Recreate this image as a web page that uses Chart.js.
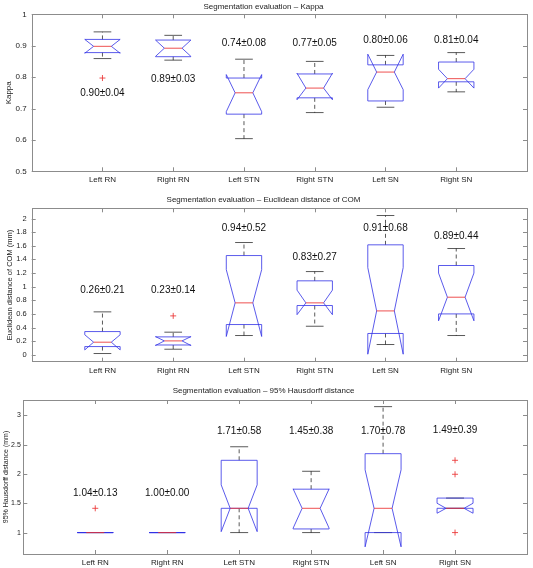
<!DOCTYPE html>
<html>
<head>
<meta charset="utf-8">
<script src="https://cdn.jsdelivr.net/npm/chart.js@4.4.0/dist/chart.umd.min.js"></script>
<style>
  body { margin: 0; background: #fff; }
  #wrap { position: relative; width: 533px; height: 568px; }
  canvas { position: absolute; left: 0; }
</style>
</head>
<body>
<div id="wrap">
  <canvas id="kappaChart" width="533" height="186" style="top:0px"></canvas>
  <canvas id="comChart" width="533" height="189" style="top:186px"></canvas>
  <canvas id="hdChart" width="533" height="193" style="top:375px"></canvas>
</div>
<script>
var categories = ['Left RN', 'Right RN', 'Left STN', 'Right STN', 'Left SN', 'Right SN'];

// Kappa
var kappaTicks = [0.5, 0.6, 0.7, 0.8, 0.9, 1];
var kappaQ1 = [0.878, 0.865, 0.682, 0.734, 0.724, 0.785];
var kappaMed = [0.898, 0.892, 0.750, 0.765, 0.816, 0.795];
var kappaQ3 = [0.920, 0.918, 0.797, 0.810, 0.839, 0.848];
var kappaNotchLo = [0.876, 0.866, 0.690, 0.728, 0.760, 0.765];
var kappaNotchHi = [0.920, 0.918, 0.808, 0.812, 0.873, 0.825];
var kappaWhiskLo = [0.859, 0.854, 0.604, 0.687, 0.704, 0.753];
var kappaWhiskHi = [0.944, 0.933, 0.857, 0.850, 0.869, 0.878];
var kappaOutliers = [[0.797], [], [], [], [], []];
var kappaText = ['0.90\u00b10.04', '0.89\u00b10.03', '0.74\u00b10.08', '0.77\u00b10.05', '0.80\u00b10.06', '0.81\u00b10.04'];
var kappaTextY = [0.748, 0.794, 0.908, 0.908, 0.916, 0.916];

// Euclidean distance of COM
var comTicks = [0, 0.2, 0.4, 0.6, 0.8, 1, 1.2, 1.4, 1.6, 1.8, 2];
var comQ1 = [0.122, 0.145, 0.445, 0.724, 0.314, 0.601];
var comMed = [0.186, 0.205, 0.763, 0.763, 0.645, 0.846];
var comQ3 = [0.342, 0.264, 1.457, 1.086, 1.614, 1.311];
var comNotchLo = [0.073, 0.138, 0.270, 0.590, 0.010, 0.500];
var comNotchHi = [0.295, 0.268, 1.250, 0.950, 1.280, 1.200];
var comWhiskLo = [0.020, 0.083, 0.284, 0.420, 0.152, 0.284];
var comWhiskHi = [0.631, 0.333, 1.648, 1.222, 2.044, 1.560];
var comOutliers = [[], [0.572], [], [], [], []];
var comText = ['0.26\u00b10.21', '0.23\u00b10.14', '0.94\u00b10.52', '0.83\u00b10.27', '0.91\u00b10.68', '0.89\u00b10.44'];
var comTextY = [0.954, 0.954, 1.853, 1.438, 1.853, 1.746];

// 95% Hausdorff distance
var hdTicks = [1, 1.5, 2, 2.5, 3];
var hdQ1 = [1, 1, 1.414, 1.062, 1.0, 1.414];
var hdMed = [1, 1, 1.414, 1.414, 1.414, 1.414];
var hdQ3 = [1, 1, 2.232, 1.740, 2.345, 1.588];
var hdNotchLo = [1, 1, 1.016, 1.075, 0.757, 1.330];
var hdNotchHi = [1, 1, 1.814, 1.745, 2.070, 1.500];
var hdWhiskLo = [1, 1, 1.0, 1.0, 1.0, 1.414];
var hdWhiskHi = [1, 1, 2.463, 2.045, 3.147, 1.588];
var hdOutliers = [[1.414], [], [], [], [], [2.232, 1.994, 1.0]];
var hdText = ['1.04\u00b10.13', '1.00\u00b10.00', '1.71\u00b10.58', '1.45\u00b10.38', '1.70\u00b10.78', '1.49\u00b10.39'];
var hdTextY = [1.665, 1.665, 2.729, 2.729, 2.729, 2.746];

var fontFamily = "'Liberation Sans', Arial, sans-serif";
var boxColor = 'rgba(50,50,230,0.8)';
var medColor = 'rgba(235,50,50,0.85)';
var whiskColor = 'rgba(0,0,0,0.65)';
var frameColor = '#8c8c8c';

function boxPlugin(p) {
    return {
        id: 'notchBox',
        beforeDatasetsDraw: function(chart) {
            var ctx = chart.ctx, xs = chart.scales.x, ys = chart.scales.y, ca = chart.chartArea;
            function Y(v) { return ys.getPixelForValue(v); }
            function line(x1, y1, x2, y2) { ctx.beginPath(); ctx.moveTo(x1, y1); ctx.lineTo(x2, y2); ctx.stroke(); }

            ctx.save();
            ctx.lineWidth = 1;

            // frame + inner ticks
            ctx.strokeStyle = frameColor;
            ctx.strokeRect(Math.round(ca.left) + 0.5, Math.round(ca.top) + 0.5,
                Math.round(ca.right - ca.left), Math.round(ca.bottom - ca.top));
            xs.ticks.forEach(function(t) {
                var px = Math.round(xs.getPixelForValue(t.value)) + 0.5;
                line(px, ca.bottom, px, ca.bottom - 4);
                line(px, ca.top, px, ca.top + 4);
            });
            ys.ticks.forEach(function(t) {
                var py = Math.round(ys.getPixelForValue(t.value)) + 0.5;
                line(ca.left, py, ca.left + 4, py);
                line(ca.right, py, ca.right - 4, py);
            });

            ctx.beginPath();
            ctx.rect(ca.left, ca.top, ca.right - ca.left, ca.bottom - ca.top);
            ctx.clip();

            for (var i = 0; i < categories.length; i++) {
                var cx = xs.getPixelForValue(i + 1);
                var w = xs.getPixelForValue(i + 1.25) - cx;

                // whiskers
                ctx.strokeStyle = whiskColor;
                ctx.setLineDash([4, 3]);
                if (p.whi[i] > p.q3[i]) line(cx, Y(p.q3[i]), cx, Y(p.whi[i]));
                if (p.wlo[i] < p.q1[i]) line(cx, Y(p.q1[i]), cx, Y(p.wlo[i]));
                ctx.setLineDash([]);
                line(cx - w / 2, Y(p.whi[i]), cx + w / 2, Y(p.whi[i]));
                line(cx - w / 2, Y(p.wlo[i]), cx + w / 2, Y(p.wlo[i]));

                // notched box
                ctx.strokeStyle = boxColor;
                ctx.beginPath();
                ctx.moveTo(cx - w, Y(p.q1[i]));
                ctx.lineTo(cx - w, Y(p.nlo[i]));
                ctx.lineTo(cx - w / 2, Y(p.med[i]));
                ctx.lineTo(cx - w, Y(p.nhi[i]));
                ctx.lineTo(cx - w, Y(p.q3[i]));
                ctx.lineTo(cx + w, Y(p.q3[i]));
                ctx.lineTo(cx + w, Y(p.nhi[i]));
                ctx.lineTo(cx + w / 2, Y(p.med[i]));
                ctx.lineTo(cx + w, Y(p.nlo[i]));
                ctx.lineTo(cx + w, Y(p.q1[i]));
                ctx.closePath();
                ctx.stroke();

                // median
                ctx.strokeStyle = medColor;
                line(cx - w / 2, Y(p.med[i]), cx + w / 2, Y(p.med[i]));
            }
            ctx.restore();
        },
        afterDatasetsDraw: function(chart) {
            var ctx = chart.ctx, xs = chart.scales.x, ys = chart.scales.y;
            ctx.save();
            ctx.fillStyle = '#111';
            ctx.font = '10px ' + fontFamily;
            ctx.textAlign = 'center';
            ctx.textBaseline = 'middle';
            for (var i = 0; i < p.text.length; i++) {
                ctx.fillText(p.text[i], xs.getPixelForValue(i + 1), ys.getPixelForValue(p.textY[i]));
            }
            ctx.restore();
        }
    };
}

function makePanel(id, p) {
    var points = [];
    p.outliers.forEach(function(list, i) {
        list.forEach(function(v) { points.push({ x: i + 1, y: v }); });
    });

    return new Chart(document.getElementById(id), {
        type: 'scatter',
        data: {
            datasets: [{
                data: points,
                pointStyle: 'cross',
                radius: 3,
                borderColor: medColor,
                backgroundColor: medColor,
                borderWidth: 1
            }]
        },
        options: {
            responsive: false,
            animation: false,
            layout: { padding: { left: 0, right: 6, top: 0, bottom: 0 } },
            plugins: {
                legend: { display: false },
                tooltip: { enabled: false },
                title: {
                    display: true,
                    text: p.title,
                    color: '#222',
                    font: { family: fontFamily, size: 8, weight: 'normal' },
                    padding: { top: p.titleTop, bottom: p.titleBottom }
                }
            },
            scales: {
                x: {
                    type: 'linear',
                    min: 0,
                    max: 7,
                    grid: { display: false, drawTicks: false },
                    border: { display: false },
                    afterBuildTicks: function(s) {
                        s.ticks = categories.map(function(c, i) { return { value: i + 1 }; });
                    },
                    afterFit: function(s) { s.height = p.xAxisH; },
                    ticks: {
                        autoSkip: false,
                        maxRotation: 0,
                        padding: 4,
                        color: '#222',
                        font: { family: fontFamily, size: 8 },
                        callback: function(v) { return categories[v - 1]; }
                    }
                },
                y: {
                    min: p.min,
                    max: p.max,
                    grid: { display: false, drawTicks: false },
                    border: { display: false },
                    afterBuildTicks: function(s) {
                        s.ticks = p.ticks.map(function(v) { return { value: v }; });
                    },
                    afterFit: function(s) { s.width = p.yAxisW; },
                    ticks: {
                        padding: p.yTickPad,
                        color: '#222',
                        font: { family: fontFamily, size: p.yFont },
                        callback: function(v) { return String(v); }
                    },
                    title: {
                        display: true,
                        text: p.yLabel,
                        color: '#222',
                        font: { family: fontFamily, size: p.yFont },
                        padding: { top: p.yTitlePad, bottom: 0 }
                    }
                }
            }
        },
        plugins: [boxPlugin(p)]
    });
}

makePanel('kappaChart', {
    title: 'Segmentation evaluation \u2013 Kappa', yLabel: 'Kappa',
    min: 0.5, max: 1, ticks: kappaTicks,
    q1: kappaQ1, med: kappaMed, q3: kappaQ3, nlo: kappaNotchLo, nhi: kappaNotchHi,
    wlo: kappaWhiskLo, whi: kappaWhiskHi, outliers: kappaOutliers,
    text: kappaText, textY: kappaTextY,
    titleTop: 2.2, titleBottom: 2.5, xAxisH: 14.7, yAxisW: 31.7, yTitlePad: 4.2, yTickPad: 5, yFont: 8
});

makePanel('comChart', {
    title: 'Segmentation evaluation \u2013 Euclidean distance of COM', yLabel: 'Euclidean distance of COM (mm)',
    min: -0.1, max: 2.15, ticks: comTicks,
    q1: comQ1, med: comMed, q3: comQ3, nlo: comNotchLo, nhi: comNotchHi,
    wlo: comWhiskLo, whi: comWhiskHi, outliers: comOutliers,
    text: comText, textY: comTextY,
    titleTop: 8.5, titleBottom: 4.2, xAxisH: 13.3, yAxisW: 31.7, yTitlePad: 5.2, yTickPad: 5, yFont: 7.5
});

makePanel('hdChart', {
    title: 'Segmentation evaluation \u2013 95% Hausdorff distance', yLabel: '95% Hausdorff distance (mm)',
    min: 0.635, max: 3.26, ticks: hdTicks,
    q1: hdQ1, med: hdMed, q3: hdQ3, nlo: hdNotchLo, nhi: hdNotchHi,
    wlo: hdWhiskLo, whi: hdWhiskHi, outliers: hdOutliers,
    text: hdText, textY: hdTextY,
    titleTop: 11.2, titleBottom: 4.2, xAxisH: 14, yAxisW: 23.3, yTitlePad: 1.8, yTickPad: 2.5, yFont: 7
});
</script>
</body>
</html>
